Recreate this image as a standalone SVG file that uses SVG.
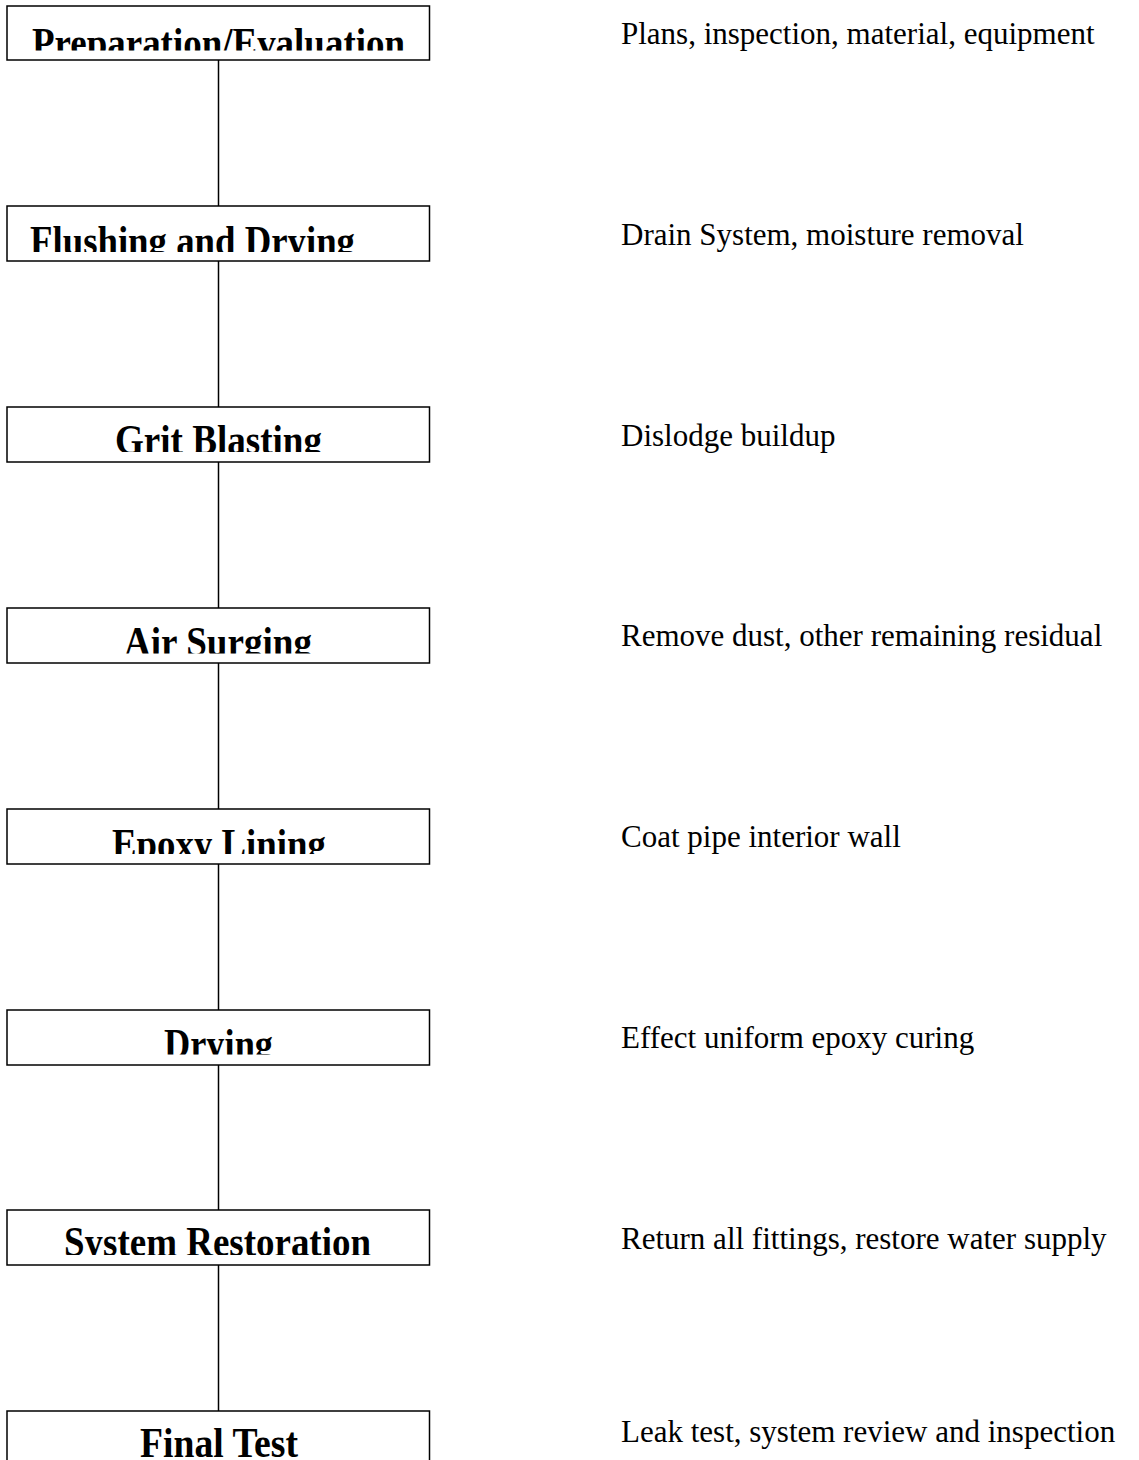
<svg xmlns="http://www.w3.org/2000/svg" width="1139" height="1460" viewBox="0 0 1139 1460">
<style>
.box{fill:#fff;stroke:#000;stroke-width:1.5}
.lbl{font-family:"Liberation Serif","Times New Roman",serif;font-weight:bold;font-size:42px;fill:#000}
.note{font-family:"Liberation Serif","Times New Roman",serif;font-size:31px;fill:#000}
.conn line{stroke:#000;stroke-width:1.5}
</style>
<defs>
<clipPath id="c1"><rect x="7" y="6" width="423" height="44.5"/></clipPath>
<clipPath id="c2"><rect x="7" y="206" width="423" height="46"/></clipPath>
<clipPath id="c3"><rect x="7" y="407" width="423" height="45"/></clipPath>
<clipPath id="c4"><rect x="7" y="608" width="423" height="45.5"/></clipPath>
<clipPath id="c5"><rect x="7" y="809" width="423" height="45"/></clipPath>
<clipPath id="c6"><rect x="7" y="1010" width="423" height="44.5"/></clipPath>
<clipPath id="c7"><rect x="7" y="1210" width="423" height="45"/></clipPath>
</defs>
<rect width="1139" height="1460" fill="#fff"/>
<g class="conn">
<line x1="218.5" y1="60" x2="218.5" y2="206"/>
<line x1="218.5" y1="261" x2="218.5" y2="407"/>
<line x1="218.5" y1="462" x2="218.5" y2="608"/>
<line x1="218.5" y1="663" x2="218.5" y2="809"/>
<line x1="218.5" y1="864" x2="218.5" y2="1010"/>
<line x1="218.5" y1="1065" x2="218.5" y2="1210"/>
<line x1="218.5" y1="1265" x2="218.5" y2="1411"/>
</g>
<g id="n1">
<rect class="box" x="7" y="6" width="422.5" height="54"/>
<text class="lbl" x="32" y="56.8" textLength="373" lengthAdjust="spacingAndGlyphs" clip-path="url(#c1)">Preparation/Evaluation</text>
<text class="note" x="621" y="44.3">Plans, inspection, material, equipment</text>
</g>
<g id="n2">
<rect class="box" x="7" y="206" width="422.5" height="55"/>
<text class="lbl" x="30" y="254.5" textLength="325" lengthAdjust="spacingAndGlyphs" clip-path="url(#c2)">Flushing and Drying</text>
<text class="note" x="621" y="245.3">Drain System, moisture removal</text>
</g>
<g id="n3">
<rect class="box" x="7" y="407" width="422.5" height="55"/>
<text class="lbl" x="115" y="454" textLength="207" lengthAdjust="spacingAndGlyphs" clip-path="url(#c3)">Grit Blasting</text>
<text class="note" x="621" y="445.5">Dislodge buildup</text>
</g>
<g id="n4">
<rect class="box" x="7" y="608" width="422.5" height="55"/>
<text class="lbl" x="124" y="656" textLength="188" lengthAdjust="spacingAndGlyphs" clip-path="url(#c4)">Air Surging</text>
<text class="note" x="621" y="646.3">Remove dust, other remaining residual</text>
</g>
<g id="n5">
<rect class="box" x="7" y="809" width="422.5" height="55"/>
<text class="lbl" x="112" y="857.8" textLength="214" lengthAdjust="spacingAndGlyphs" clip-path="url(#c5)">Epoxy Lining</text>
<text class="note" x="621" y="847">Coat pipe interior wall</text>
</g>
<g id="n6">
<rect class="box" x="7" y="1010" width="422.5" height="55"/>
<text class="lbl" x="164" y="1057.8" textLength="109" lengthAdjust="spacingAndGlyphs" clip-path="url(#c6)">Drying</text>
<text class="note" x="621" y="1047.8">Effect uniform epoxy curing</text>
</g>
<g id="n7">
<rect class="box" x="7" y="1210" width="422.5" height="55"/>
<text class="lbl" x="64" y="1255.5" textLength="307" lengthAdjust="spacingAndGlyphs" clip-path="url(#c7)">System Restoration</text>
<text class="note" x="621" y="1248.5">Return all fittings, restore water supply</text>
</g>
<g id="n8">
<rect class="box" x="7" y="1411" width="422.5" height="60"/>
<text class="lbl" x="140" y="1457" textLength="158" lengthAdjust="spacingAndGlyphs">Final Test</text>
<text class="note" x="621" y="1441.7">Leak test, system review and inspection</text>
</g>
</svg>
